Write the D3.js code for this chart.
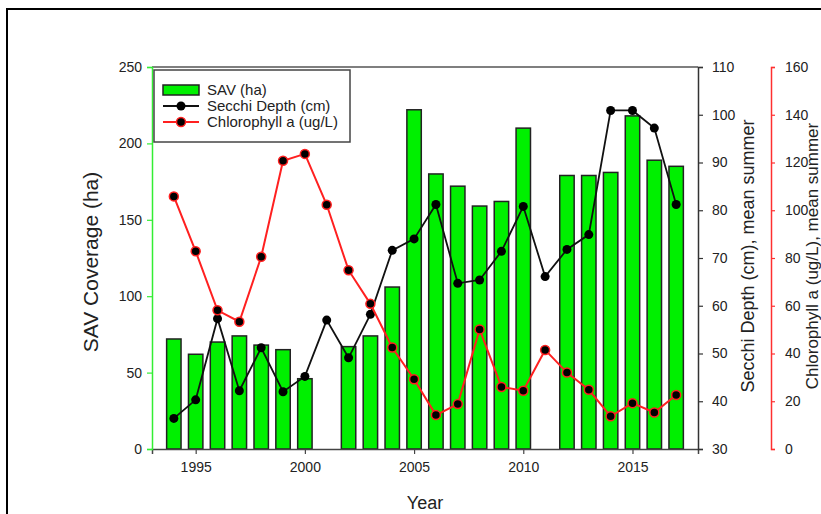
<!DOCTYPE html>
<html>
<head>
<meta charset="utf-8">
<script src="https://cdn.jsdelivr.net/npm/d3@7"></script>
<style>
  body { margin: 0; background: #fff; }
  svg { display: block; font-family: "Liberation Sans", Arial, sans-serif; }
  .tick text { fill: #222; }
</style>
</head>
<body>
<div id="chart"></div>
<script>
// Chart data
const years = [1994, 1995, 1996, 1997, 1998, 1999, 2000, 2001, 2002, 2003, 2004, 2005,
               2006, 2007, 2008, 2009, 2010, 2011, 2012, 2013, 2014, 2015, 2016, 2017];
const savHa = [72, 62, 70, 74, 68, 65, 46, null, 67, 74, 106, 222,
               180, 172, 159, 162, 210, null, 179, 179, 181, 218, 189, 185];
const secchiCm = [36.4, 40.3, 57.3, 42.2, 51.2, 42, 45.2, 57, 49.1, 58.2, 71.6, 74,
                  81.2, 64.7, 65.4, 71.4, 80.8, 66.1, 71.8, 74.9, 100.9, 100.9, 97.2, 81.2];
const chlUgL = [105.8, 82.8, 58.1, 53.3, 80.5, 120.7, 123.6, 102.3, 74.9, 60.8, 42.5, 29.2,
                14.2, 18.8, 50.1, 26, 24.4, 41.5, 32, 24.8, 13.7, 19.2, 15.3, 22.6];

const xTicks = [1995, 2000, 2005, 2010, 2015];
const savTicks = [0, 50, 100, 150, 200, 250];
const secchiTicks = [30, 40, 50, 60, 70, 80, 90, 100, 110];
const chlTicks = [0, 20, 40, 60, 80, 100, 120, 140, 160];
const legendItems = ["SAV (ha)", "Secchi Depth (cm)", "Chlorophyll a (ug/L)"];

const width = 821, height = 514;
const plot = { left: 152, right: 698, top: 67, bottom: 449 };
const chlAxisX = 771;

const svg = d3.select("#chart").append("svg")
    .attr("width", width)
    .attr("height", height);

// outer frame (runs off the right and bottom edge)
svg.append("rect")
    .attr("x", 7).attr("y", 9)
    .attr("width", 830).attr("height", 530)
    .attr("fill", "none")
    .attr("stroke", "#000")
    .attr("stroke-width", 2);

// scales
const x = d3.scaleLinear().domain([1993, 2018]).range([plot.left, plot.right]);
const ySav = d3.scaleLinear().domain([0, 250]).range([plot.bottom, plot.top]);
const ySec = d3.scaleLinear().domain([30, 110]).range([plot.bottom, plot.top]);
const yChl = d3.scaleLinear().domain([0, 160]).range([plot.bottom, plot.top]);

const rows = years.map((yr, i) => ({ year: yr, sav: savHa[i], sec: secchiCm[i], chl: chlUgL[i] }));

// top frame line
svg.append("line")
    .attr("x1", plot.left).attr("x2", plot.right)
    .attr("y1", plot.top).attr("y2", plot.top)
    .attr("stroke", "#555").attr("stroke-width", 1.5);

// bars
const halfW = 0.33;
svg.append("g").selectAll("rect")
    .data(rows.filter(d => d.sav != null))
    .join("rect")
    .attr("x", d => x(d.year - halfW))
    .attr("width", d => x(d.year + halfW) - x(d.year - halfW))
    .attr("y", d => ySav(d.sav))
    .attr("height", d => ySav(0) - ySav(d.sav))
    .attr("fill", "#00f000")
    .attr("stroke", "#222")
    .attr("stroke-width", 1.5);

// bottom axis
const gx = svg.append("g")
    .attr("transform", `translate(0,${plot.bottom})`)
    .call(d3.axisBottom(x).tickValues(xTicks).tickFormat(d3.format("d")).tickSizeOuter(0).tickSize(5).tickPadding(8));
gx.select(".domain").attr("stroke", "#444").attr("stroke-width", 1.5);
gx.selectAll(".tick line").attr("stroke", "#444").attr("stroke-width", 1.2);
gx.selectAll("text").attr("font-size", 14);

// left axis (green)
const gl = svg.append("g")
    .attr("transform", `translate(${plot.left},0)`)
    .call(d3.axisLeft(ySav).tickValues(savTicks).tickSizeOuter(0).tickSize(5).tickPadding(5));
gl.select(".domain").attr("stroke", "#33ee33").attr("stroke-width", 1.5);
gl.selectAll(".tick line").attr("stroke", "#33ee33").attr("stroke-width", 1.2);
gl.selectAll("text").attr("font-size", 14);

// right axis: Secchi
const gs = svg.append("g")
    .attr("transform", `translate(${plot.right},0)`)
    .call(d3.axisRight(ySec).tickValues(secchiTicks).tickSizeOuter(0).tickSize(5).tickPadding(9));
gs.select(".domain").attr("stroke", "#333").attr("stroke-width", 1.5);
gs.selectAll(".tick line").attr("stroke", "#333").attr("stroke-width", 1.2);
gs.selectAll("text").attr("font-size", 14);

// right axis: Chlorophyll (red)
const gc = svg.append("g")
    .attr("transform", `translate(${chlAxisX},0)`)
    .call(d3.axisRight(yChl).tickValues(chlTicks).tickSizeOuter(0).tickSize(4).tickPadding(10));
gc.select(".domain").attr("stroke", "#ff3030").attr("stroke-width", 1.5);
gc.selectAll(".tick line").attr("stroke", "#ff3030").attr("stroke-width", 1.2);
gc.selectAll("text").attr("font-size", 14);

// Secchi line
const lineSec = d3.line().x(d => x(d.year)).y(d => ySec(d.sec));
svg.append("path")
    .datum(rows)
    .attr("d", lineSec)
    .attr("fill", "none")
    .attr("stroke", "#111")
    .attr("stroke-width", 1.8);
svg.append("g").selectAll("circle")
    .data(rows)
    .join("circle")
    .attr("cx", d => x(d.year))
    .attr("cy", d => ySec(d.sec))
    .attr("r", 4.5)
    .attr("fill", "#000");

// Chlorophyll line
const lineChl = d3.line().x(d => x(d.year)).y(d => yChl(d.chl));
svg.append("path")
    .datum(rows)
    .attr("d", lineChl)
    .attr("fill", "none")
    .attr("stroke", "#ff2020")
    .attr("stroke-width", 2);
svg.append("g").selectAll("circle")
    .data(rows)
    .join("circle")
    .attr("cx", d => x(d.year))
    .attr("cy", d => yChl(d.chl))
    .attr("r", 4.5)
    .attr("fill", "#000")
    .attr("stroke", "#ff2020")
    .attr("stroke-width", 1.5);

// axis titles
svg.append("text")
    .attr("x", 425).attr("y", 509)
    .attr("text-anchor", "middle")
    .attr("font-size", 18)
    .attr("fill", "#222")
    .text("Year");

svg.append("text")
    .attr("transform", "translate(98,262) rotate(-90)")
    .attr("text-anchor", "middle")
    .attr("font-size", 21)
    .attr("fill", "#222")
    .text("SAV Coverage (ha)");

svg.append("text")
    .attr("transform", "translate(754,256) rotate(-90)")
    .attr("text-anchor", "middle")
    .attr("font-size", 18)
    .attr("fill", "#222")
    .text("Secchi Depth (cm), mean summer");

svg.append("text")
    .attr("transform", "translate(818,256) rotate(-90)")
    .attr("text-anchor", "middle")
    .attr("font-size", 17)
    .attr("fill", "#222")
    .text("Chlorophyll a (ug/L), mean summer");

// legend
const legend = svg.append("g").attr("transform", "translate(154,70)");
legend.append("rect")
    .attr("width", 196).attr("height", 72)
    .attr("fill", "#fff")
    .attr("stroke", "#444")
    .attr("stroke-width", 1.5);

const rowY = i => 20 + i * 16;
legend.append("rect")
    .attr("x", 9).attr("y", rowY(0) - 5)
    .attr("width", 36).attr("height", 10)
    .attr("fill", "#00f000")
    .attr("stroke", "#222")
    .attr("stroke-width", 1.5);

legend.append("line")
    .attr("x1", 9).attr("x2", 45)
    .attr("y1", rowY(1)).attr("y2", rowY(1))
    .attr("stroke", "#111").attr("stroke-width", 1.8);
legend.append("circle")
    .attr("cx", 27).attr("cy", rowY(1)).attr("r", 4.5)
    .attr("fill", "#000");

legend.append("line")
    .attr("x1", 9).attr("x2", 45)
    .attr("y1", rowY(2)).attr("y2", rowY(2))
    .attr("stroke", "#ff2020").attr("stroke-width", 2);
legend.append("circle")
    .attr("cx", 27).attr("cy", rowY(2)).attr("r", 4.5)
    .attr("fill", "#000")
    .attr("stroke", "#ff2020").attr("stroke-width", 1.5);

legend.selectAll("text.lbl")
    .data(legendItems)
    .join("text")
    .attr("class", "lbl")
    .attr("x", 53)
    .attr("y", (d, i) => rowY(i))
    .attr("dy", "0.35em")
    .attr("font-size", 15)
    .attr("fill", "#222")
    .text(d => d);
</script>
</body>
</html>
